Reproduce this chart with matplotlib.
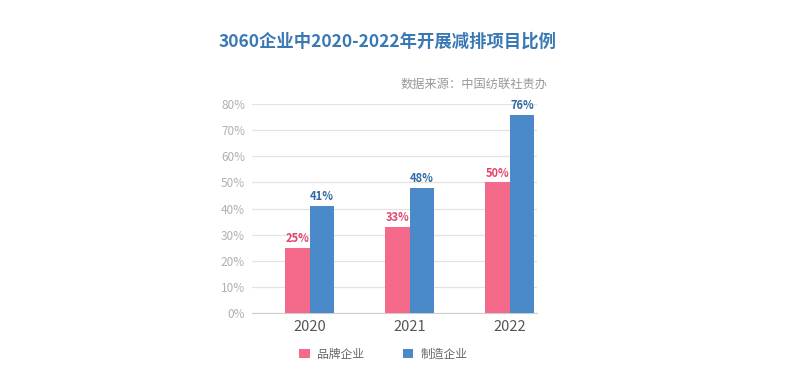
import matplotlib.pyplot as plt
import numpy as np

plt.rcParams['font.family'] = ['Noto Sans CJK SC', 'DejaVu Sans']

years = ['2020', '2021', '2022']
brand = [25, 33, 50]
manuf = [41, 48, 76]
yticks = [0, 10, 20, 30, 40, 50, 60, 70, 80]
series_names = ['品牌企业', '制造企业']

pink = '#f5698a'
blue = '#4b8ac8'

fig = plt.figure(figsize=(8, 3.92), dpi=100)
ax = fig.add_axes([0.315, 0.2015, 0.356, 0.533])

x = np.arange(len(years))
w = 0.245
b1 = ax.bar(x - w/2, brand, w, color=pink, label=series_names[0], zorder=3)
b2 = ax.bar(x + w/2, manuf, w, color=blue, label=series_names[1], zorder=3)

for xi, v in zip(x, brand):
    ax.text(xi - w/2, v + 1, f'{v}%', ha='center', va='bottom', color='#e2456b',
            fontsize=8, fontweight='bold')
for xi, v in zip(x, manuf):
    ax.text(xi + w/2, v + 1, f'{v}%', ha='center', va='bottom', color='#2f6aa3',
            fontsize=8, fontweight='bold')

ax.set_xlim(-0.58, 2.27)
ax.set_ylim(0, 80)
ax.set_yticks(yticks)
ax.set_yticklabels([f'{t}%' for t in yticks], color='#b0b0b0', fontsize=8.5)
ax.set_xticks(x)
ax.set_xticklabels(years, color='#555555', fontsize=10.5)
ax.tick_params(axis='both', length=0)
ax.tick_params(axis='y', pad=5)
ax.tick_params(axis='x', pad=5)
ax.grid(axis='y', color='#e3e3e3', linewidth=0.9, zorder=0)
for s in ['left', 'right', 'top']:
    ax.spines[s].set_visible(False)
ax.spines['bottom'].set_color('#cccccc')

fig.text(0.484, 0.893, '3060企业中2020-2022年开展减排项目比例', ha='center', va='center',
         color='#3a78b4', fontsize=12.5, fontweight='bold')
fig.text(0.685, 0.785, '数据来源：中国纺联社责办', ha='right', va='center',
         color='#999999', fontsize=8.8)

leg = fig.legend(handles=[b1, b2], labels=series_names, loc='center', ncol=2,
                 bbox_to_anchor=(0.479, 0.097), frameon=False, fontsize=8.5,
                 handlelength=0.9, handleheight=0.9, columnspacing=3.3, handletextpad=0.6)
for t in leg.get_texts():
    t.set_color('#666666')

fig.savefig('out.png', dpi=100)
